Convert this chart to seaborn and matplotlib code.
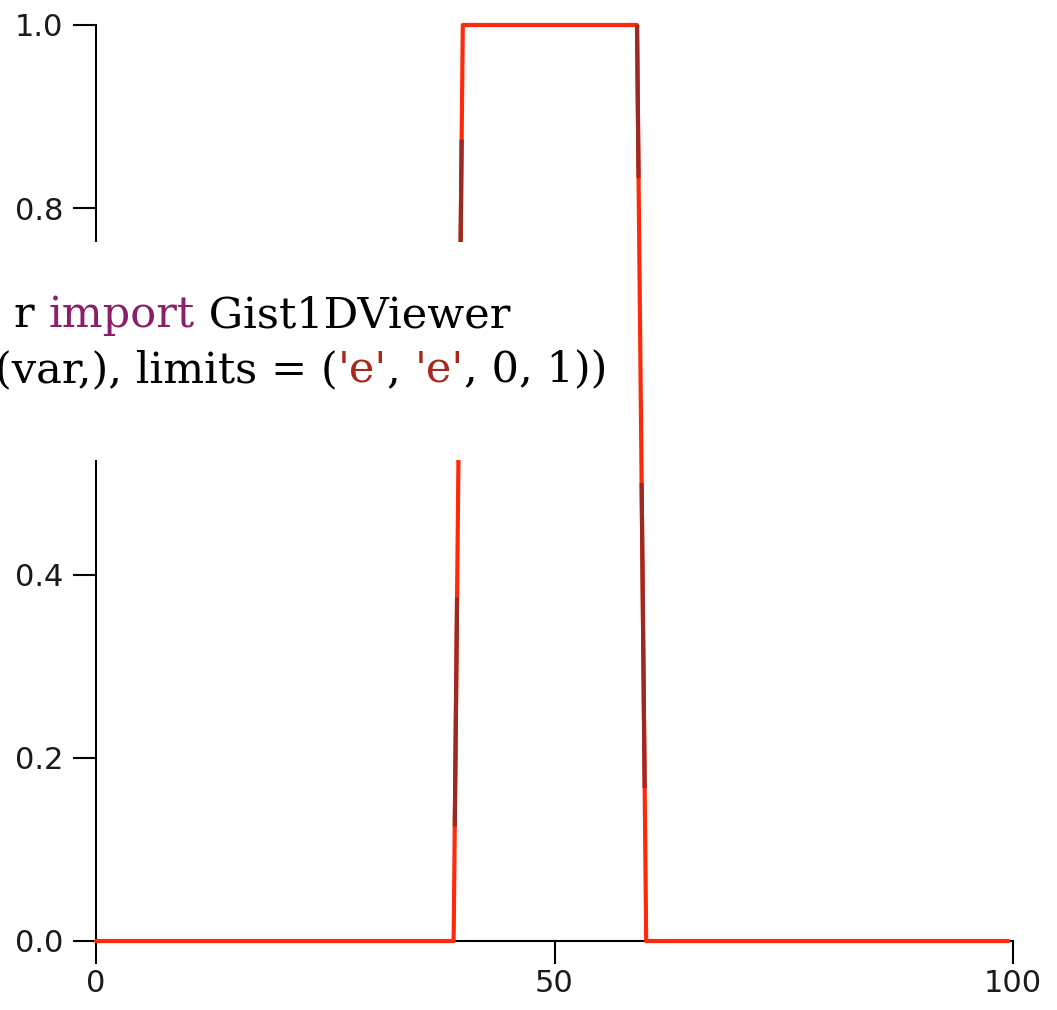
import matplotlib.pyplot as plt
import numpy as np
import seaborn as sns
from matplotlib.patches import Rectangle

# main curve (cell values, linearly joined)
x_pts = [0, 39, 40, 59, 60, 99.5]
y_pts = [0, 0, 1, 1, 0, 0]

# darker stretches on the two ramps (value ranges)
dark_lo = [0.125, 0.625, 0.167, 0.833]
dark_hi = [0.375, 0.875, 0.5, 1.0]
dark_ramp = ["left", "left", "right", "right"]

x_ticks = [0, 50, 100]
y_ticks = [0.0, 0.2, 0.4, 0.6, 0.8, 1.0]
y_labels = ["0.0", "0.2", "0.4", "0.6", "0.8", "1.0"]

# code snippet, split into coloured pieces
code_line1 = [("r ", "black"), ("import", "#8a1f6a"), (" Gist1DViewer", "black")]
code_line2 = [("(var,), limits = (", "black"), ("'e'", "#a8281c"), (", ", "black"),
              ("'e'", "#a8281c"), (", 0, 1))", "black")]

W, H = 1057, 1010
RED = "#ff2a0a"
DARK = "#9c2a22"

sns.set_style("ticks")
plt.rcParams["font.family"] = ["DejaVu Sans"]

fig = plt.figure(figsize=(W / 100, H / 100), dpi=100)
ax = fig.add_axes([96 / W, 1 - 941 / H, (1013 - 96) / W, (941 - 25) / H])

sns.lineplot(x=x_pts, y=y_pts, ax=ax, color=RED, linewidth=3.0,
             sort=False, estimator=None, zorder=5, clip_on=False)

# dark stretches, placed along the ramps of the main curve
for lo, hi, side in zip(dark_lo, dark_hi, dark_ramp):
    if side == "left":
        xs = np.interp([lo, hi], y_pts[1:3], x_pts[1:3])
    else:
        xs = np.interp([lo, hi], y_pts[3:5][::-1], x_pts[3:5][::-1])
    ax.plot(xs, [lo, hi], color=DARK, linewidth=3.0, zorder=6,
            solid_capstyle="butt", clip_on=False)

ax.set_xlim(0, 100)
ax.set_ylim(0, 1)
ax.set_xticks(x_ticks)
ax.set_xticklabels([str(t) for t in x_ticks])
ax.set_yticks(y_ticks)
ax.set_yticklabels(y_labels)
for s in ["top", "right"]:
    ax.spines[s].set_visible(False)
for s in ["left", "bottom"]:
    ax.spines[s].set_linewidth(1.5)
    ax.spines[s].set_color("black")
ax.tick_params(axis="both", direction="out", length=16.5, width=1.5,
               labelsize=22, labelcolor="#1a1a1a", color="black")
ax.tick_params(axis="x", pad=4)
ax.tick_params(axis="y", pad=7)
ax.set_xlabel("")
ax.set_ylabel("")

# code snippet box lying over the chart
box = Rectangle((0, 1 - 460 / H), 615 / W, (460 - 242) / H,
                transform=fig.transFigure, facecolor="white",
                edgecolor="none", zorder=20)
fig.add_artist(box)

renderer = fig.canvas.get_renderer()
CODE_FONT = "DejaVu Serif"


def text_w(s, size):
    t = fig.text(0, 0, s, fontsize=size, family=CODE_FONT)
    w = t.get_window_extent(renderer).width
    t.remove()
    return w


# font size so that the second line spans about 612 px, as in the picture
full2 = "".join(p for p, _ in code_line2)
code_size = 30 * 612 / text_w(full2, 30)


def code_text(pieces, right_px, base_px):
    full = "".join(p for p, _ in pieces)
    x0 = right_px - text_w(full, code_size)
    ref = text_w("l", code_size)
    pos = 0
    for piece, col in pieces:
        prefix = full[:pos]
        dx = text_w(prefix + "l", code_size) - ref if prefix else 0
        fig.text((x0 + dx) / W, 1 - base_px / H, piece, color=col,
                 fontsize=code_size, family=CODE_FONT, va="baseline",
                 ha="left", zorder=21)
        pos += len(piece)


code_text(code_line1, 510, 327)
code_text(code_line2, 607, 382)

fig.savefig("out.png", dpi=100)
